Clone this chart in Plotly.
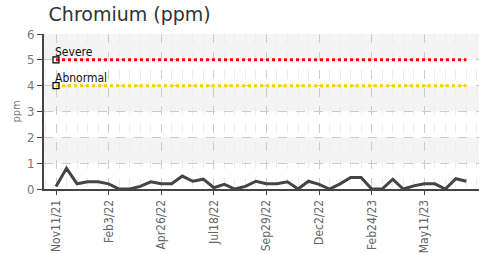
import plotly.graph_objects as go

# Data
idx = list(range(40))
chromium = [0.1, 0.8, 0.2, 0.28, 0.28, 0.2, 0, 0, 0.1, 0.28,
            0.2, 0.2, 0.5, 0.3, 0.38, 0.05, 0.18, 0, 0.1, 0.3,
            0.2, 0.2, 0.28, 0, 0.3, 0.18, 0, 0.2, 0.45, 0.45,
            0, 0, 0.38, 0, 0.12, 0.2, 0.2, 0, 0.4, 0.3]
tick_pos = [0, 5, 10, 15, 20, 25, 30, 35]
tick_labels = ["Nov11/21", "Feb3/22", "Apr26/22", "Jul18/22",
               "Sep29/22", "Dec2/22", "Feb24/23", "May11/23"]
severe_level = 5
abnormal_level = 4
bands = [(1, 2), (3, 4), (5, 6)]

narrow = "DejaVu Sans Condensed, Roboto, sans-serif"

fig = go.Figure()

for lo, hi in bands:
    fig.add_shape(type="rect", xref="paper", yref="y", x0=0, x1=1, y0=lo, y1=hi,
                  fillcolor="#f4f4f4", line_width=0, layer="below")

fig.add_trace(go.Scatter(x=idx, y=[severe_level] * len(idx), mode="lines",
                         line=dict(color="#ff0000", width=3, dash="dot"),
                         hoverinfo="skip", showlegend=False))
fig.add_trace(go.Scatter(x=idx, y=[abnormal_level] * len(idx), mode="lines",
                         line=dict(color="#ffcc00", width=3, dash="dot"),
                         hoverinfo="skip", showlegend=False))
fig.add_trace(go.Scatter(x=[idx[0], idx[0]], y=[severe_level, abnormal_level], mode="markers",
                         marker=dict(symbol="square-open", size=6, color="#000000",
                                     line=dict(width=1.2)),
                         hoverinfo="skip", showlegend=False))
fig.add_trace(go.Scatter(x=idx, y=chromium, mode="lines",
                         line=dict(color="#444444", width=3),
                         showlegend=False))

fig.add_annotation(x=idx[0], y=severe_level, text="Severe", showarrow=False,
                   xanchor="left", yanchor="bottom", xshift=-3, yshift=-1,
                   font=dict(family=narrow, size=12, color="#111111"))
fig.add_annotation(x=idx[0], y=abnormal_level, text="Abnormal", showarrow=False,
                   xanchor="left", yanchor="bottom", xshift=-3, yshift=-1,
                   font=dict(family=narrow, size=12, color="#111111"))

fig.update_layout(
    width=481, height=254,
    margin=dict(l=44, r=2, t=34, b=65),
    paper_bgcolor="white", plot_bgcolor="white",
    title=dict(text="Chromium (ppm)", x=0.101, xanchor="left", y=0.945, yanchor="middle",
               font=dict(family="DejaVu Sans", size=19, color="#333333")),
    xaxis=dict(range=[-1.14, 40.2], tickmode="array", tickvals=tick_pos, ticktext=tick_labels,
               tickangle=-90, showgrid=True, gridcolor="#cccccc", griddash="dash", gridwidth=1,
               minor=dict(dtick=1, tick0=0, showgrid=True, gridcolor="#ececec", griddash="dash"),
               showline=True, linecolor="#444444", linewidth=2, ticks="outside", ticklen=4,
               tickcolor="#444444", zeroline=False, automargin=False,
               tickfont=dict(family=narrow, size=12, color="#666666")),
    yaxis=dict(range=[0, 6], dtick=1, showgrid=True, gridcolor="#cccccc", griddash="dash",
               showline=True, linecolor="#444444", linewidth=2, ticks="outside", ticklen=5,
               tickcolor="#444444", zeroline=False, automargin=False,
               tickfont=dict(family=narrow, size=13, color="#777777"),
               title=dict(text="ppm", standoff=4, font=dict(family=narrow, size=11, color="#777777"))),
)

fig.write_html("out.html", config={"displayModeBar": False},
               post_script="document.body.style.margin='0';")
